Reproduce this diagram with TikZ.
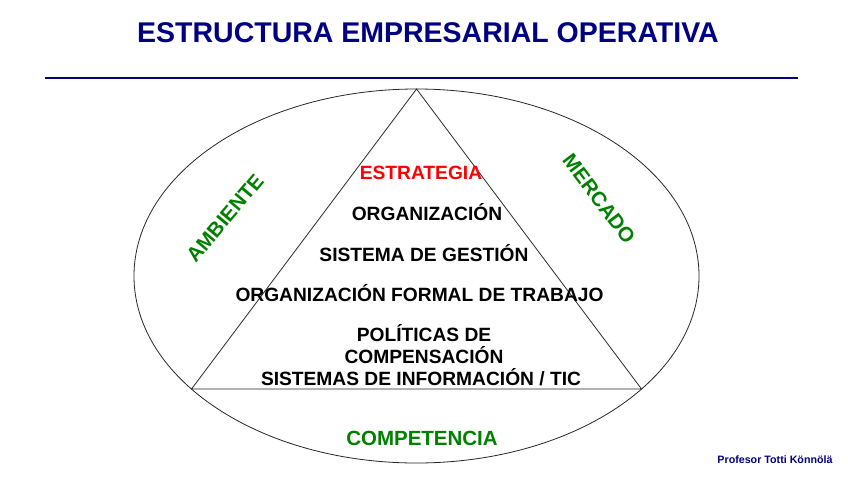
\documentclass[tikz,border=0pt]{standalone}
\usepackage{fontspec}
\setmainfont{Liberation Sans}
\definecolor{azul}{RGB}{0,0,128}
\definecolor{verde}{RGB}{0,128,0}
\tikzset{
    titulo/.style={font=\bfseries\fontsize{28.5}{32}\selectfont,text=azul},
    nivel/.style={font=\bfseries\fontsize{19.2}{22}\selectfont,text=black},
    entorno/.style={font=\bfseries\fontsize{20.5}{24}\selectfont,text=verde}
}
\begin{document}
\begin{tikzpicture}[x=1pt,y=-1pt]
            \useasboundingbox (0,0) rectangle (848,477);
            \begin{scope}
                \node[titulo] (titulo) at (428,33) {ESTRUCTURA EMPRESARIAL OPERATIVA};
                \draw[azul,line width=2pt] (45,78) -- (798,78);
            \end{scope}
            
            \begin{scope}[line width=.8pt,black!85]
                \draw (416.5,276) ellipse (282.5 and 187);
                \coordinate (cima) at (416.5,89);
                \coordinate (izq) at (191.5,389);
                \coordinate (der) at (641.5,389);
                \draw (cima) -- (izq) -- (der) -- cycle;
            \end{scope}
            
            \node[nivel,text=red] (estrategia) at (421,173) {ESTRATEGIA};
            \node[nivel] (organizacion) at (427,212) {ORGANIZACIÓN};
            \node[nivel] (gestion) at (424,253) {SISTEMA DE GESTIÓN};
            \node[nivel] (trabajo) at (419.5,293) {ORGANIZACIÓN FORMAL DE TRABAJO};
            \node[nivel] (politicas) at (424,333) {POLÍTICAS DE};
            \node[nivel] (compensacion) at (424,355) {COMPENSACIÓN};
            \node[nivel] (informacion) at (421,377) {SISTEMAS DE INFORMACIÓN / TIC};
            
            \node[entorno,rotate=50] (ambiente) at (225,218) {AMBIENTE};
            \node[entorno,rotate=-53] (mercado) at (599,199) {MERCADO};
            \node[entorno] (competencia) at (422,438) {COMPETENCIA};
            
            \node[font=\bfseries\fontsize{10.7}{12}\selectfont,text=azul] (autor) at (775,460) {Profesor Totti Könnölä};
        \end{tikzpicture}
\end{document}
